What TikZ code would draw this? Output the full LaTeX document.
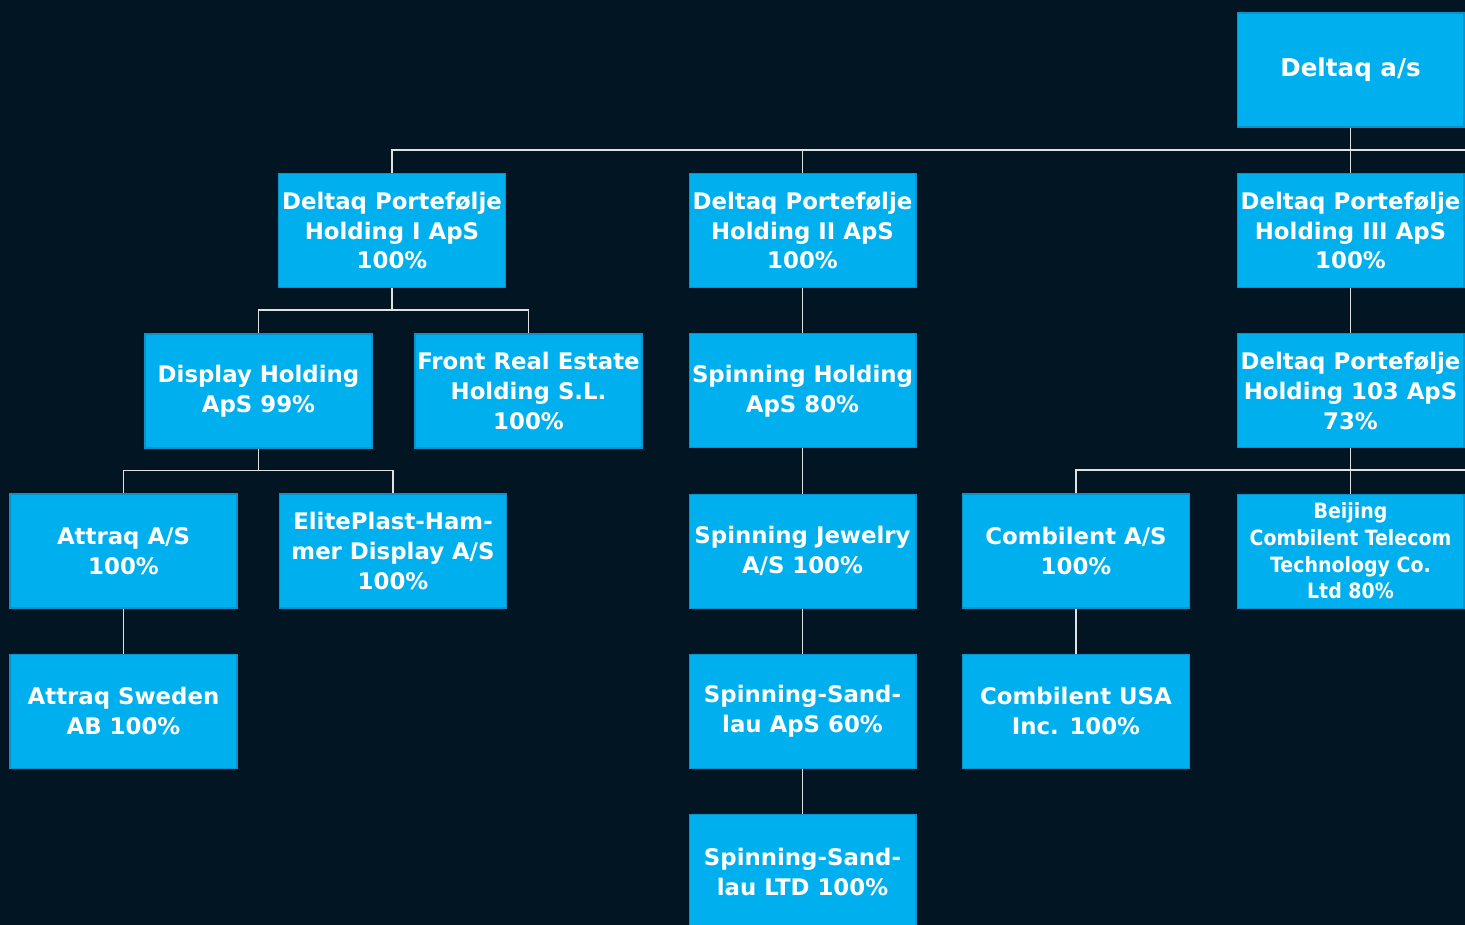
\documentclass[tikz,border=0pt]{standalone}
\usepackage{fontspec}
\setmainfont{DejaVu Sans}
\newfontfamily\condfont{DejaVu Sans Condensed}
\usetikzlibrary{positioning}
\definecolor{navybg}{RGB}{2,21,35}
\definecolor{boxblue}{RGB}{0,176,238}
\definecolor{boxedge}{RGB}{12,145,200}
\definecolor{linegray}{RGB}{225,225,225}
\tikzset{
  orgbox/.style={rectangle, fill=boxblue, draw=boxedge, line width=0.6pt,
    text=white, minimum width=4.54cm, minimum height=2.28cm, inner sep=0pt,
    align=center, font=\bfseries\fontsize{13}{17}\selectfont},
  orglink/.style={draw=linegray, line width=0.8pt}
}

\begin{document}
\begin{tikzpicture}[x=0.02cm, y=-0.02cm, node distance=0.905cm]
% Background and frame.
\fill[navybg] (0,0) rectangle (1465,925);
\useasboundingbox (0,0) rectangle (1465,925);
\clip (0,0) rectangle (1465,925);

% Top and second row.
\node[orgbox, font=\bfseries\fontsize{14}{17}\selectfont] (deltaq) at (1350.5,70) {Deltaq a/s};
\node[orgbox] (dpone) at (392,230.5) {Deltaq Portefølje\\Holding I ApS\\100\%};
\node[orgbox] (dptwo) at (802.5,230.5) {Deltaq Portefølje\\Holding II ApS\\100\%};
\node[orgbox] (dpthree) at (1350.5,230.5) {Deltaq Portefølje\\Holding III ApS\\100\%};

% Third row.
\node[orgbox] (display) at (258.5,391) {Display Holding\\ApS 99\%};
\node[orgbox] (front) at (528.5,391) {Front Real Estate\\Holding S.L.\\100\%};
\node[orgbox, below=of dptwo] (spinhold) {Spinning Holding\\ApS 80\%};
\node[orgbox, below=of dpthree] (dpthree3) {Deltaq Portefølje\\Holding 103 ApS\\73\%};

% Fourth row.
\node[orgbox] (attraq) at (123.5,551) {Attraq A/S\\100\%};
\node[orgbox] (elite) at (393,551) {ElitePlast-Ham-\\mer Display A/S\\100\%};
\node[orgbox, below=of spinhold] (jewelry) {Spinning Jewelry\\A/S 100\%};
\node[orgbox] (combi) at (1076,551) {Combilent A/S\\100\%};
\node[orgbox, below=of dpthree3, font=\condfont\bfseries\fontsize{12}{15.2}\selectfont] (beijing)
  {Beijing\\Combilent Telecom\\Technology Co.\\Ltd 80\%};

% Fifth and sixth row.
\node[orgbox, below=of attraq] (sweden) {Attraq Sweden\\AB 100\%};
\node[orgbox, below=of jewelry] (sandaps) {Spinning-Sand-\\lau ApS 60\%};
\node[orgbox, below=of combi] (combiusa) {Combilent USA\\Inc. 100\%};
\node[orgbox, below=of sandaps] (sandltd) {Spinning-Sand-\\lau LTD 100\%};

% Free ends at the right edge.
\coordinate (busone) at (1480,150);
\coordinate (bustwo) at (1480,470);

% Draw connectors.
\draw[orglink] (deltaq.south) -- (deltaq.south |- busone);
\draw[orglink] (dpone.north) |- (busone);
\draw[orglink] (dptwo.north) -- (dptwo.north |- busone);
\draw[orglink] (dpthree.north) -- (dpthree.north |- busone);

\draw[orglink] (dpone.south) -- ++(0,22) -| (display.north);
\draw[orglink] (dpone.south) -- ++(0,22) -| (front.north);
\draw[orglink] (dptwo) -- (spinhold);
\draw[orglink] (dpthree) -- (dpthree3);

\draw[orglink] (display.south) -- ++(0,22) -| (attraq.north);
\draw[orglink] (display.south) -- ++(0,22) -| (elite.north);
\draw[orglink] (spinhold) -- (jewelry);
\draw[orglink] (combi.north) |- (bustwo);
\draw[orglink] (dpthree3) -- (beijing);

\draw[orglink] (attraq) -- (sweden);
\draw[orglink] (jewelry) -- (sandaps);
\draw[orglink] (combi) -- (combiusa);
\draw[orglink] (sandaps) -- (sandltd);
\end{tikzpicture}
\end{document}
